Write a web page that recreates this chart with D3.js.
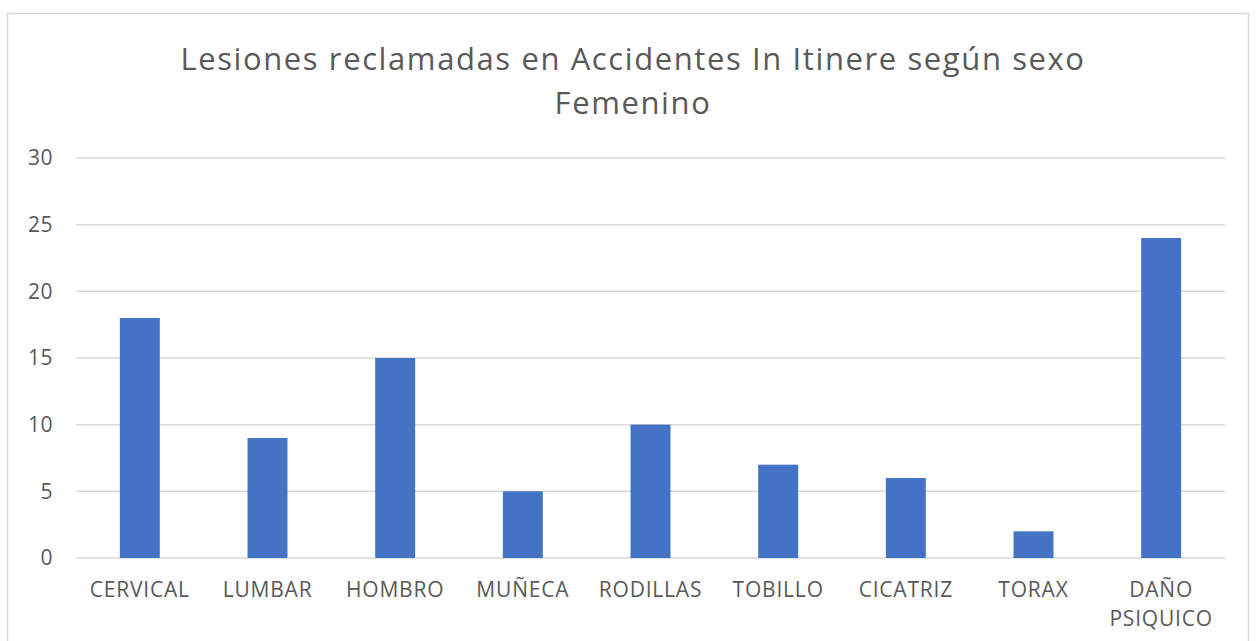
<!DOCTYPE html>
<html>
<head>
<meta charset="utf-8">
<script src="https://cdn.jsdelivr.net/npm/d3@7"></script>
<style>
  body { margin: 0; background: #fff; }
  text { font-family: "Open Sans", "Noto Sans", sans-serif; fill: #595959; }
</style>
</head>
<body>
<div id="chart"></div>
<script>
// data
var categories = ["CERVICAL", "LUMBAR", "HOMBRO", "MUÑECA", "RODILLAS", "TOBILLO", "CICATRIZ", "TORAX", "DAÑO PSIQUICO"];
var values = [18, 9, 15, 5, 10, 7, 6, 2, 24];
var yTicks = [0, 5, 10, 15, 20, 25, 30];
var titleLines = ["Lesiones reclamadas en Accidentes In Itinere según sexo", "Femenino"];

var W = 1256, H = 641;
var margin = {top: 158, left: 76, right: 31, bottom: 83};
var width = W - margin.left - margin.right,
    height = H - margin.top - margin.bottom;

var svg = d3.select("#chart").append("svg")
    .attr("width", W)
    .attr("height", H);

// outer frame
svg.append("rect")
    .attr("x", 7.5).attr("y", 13.5)
    .attr("width", 1241).attr("height", 640)
    .attr("fill", "none")
    .attr("stroke", "#d9d9d9")
    .attr("stroke-width", 1.5);

// title
svg.append("text")
    .attr("x", 632)
    .attr("y", 70)
    .attr("text-anchor", "middle")
    .style("font-size", "31px")
    .style("letter-spacing", "1.6px")
    .selectAll("tspan")
    .data(titleLines)
    .enter().append("tspan")
    .attr("x", 633)
    .attr("dy", function (d, i) { return i ? 44 : 0; })
    .text(function (d) { return d; });

var g = svg.append("g")
    .attr("transform", "translate(" + margin.left + "," + margin.top + ")");

var x = d3.scaleBand()
    .domain(categories)
    .range([0, width])
    .paddingInner(0.687)
    .paddingOuter(0.3435);

var y = d3.scaleLinear()
    .domain([0, 30])
    .range([height, 0]);

// gridlines
g.append("g")
    .selectAll("line")
    .data(yTicks)
    .enter().append("line")
    .attr("x1", 0)
    .attr("x2", width)
    .attr("y1", function (d) { return y(d); })
    .attr("y2", function (d) { return y(d); })
    .attr("stroke", "#d9d9d9")
    .attr("stroke-width", 1.5);

// y axis labels
var yAxis = g.append("g")
    .call(d3.axisLeft(y).tickValues(yTicks).tickSize(0).tickPadding(23));
yAxis.select(".domain").remove();
yAxis.selectAll("text")
    .style("font-size", "21px")
    .style("letter-spacing", "0.5px")
    .attr("fill", "#595959");

// bars
g.selectAll(".bar")
    .data(values)
    .enter().append("rect")
    .attr("class", "bar")
    .attr("x", function (d, i) { return x(categories[i]); })
    .attr("width", x.bandwidth())
    .attr("y", function (d) { return y(d); })
    .attr("height", function (d) { return height - y(d); })
    .attr("fill", "#4472c4");

// x axis labels
var xAxis = g.append("g")
    .attr("transform", "translate(0," + height + ")")
    .call(d3.axisBottom(x).tickSize(0).tickPadding(0));
xAxis.select(".domain").remove();
xAxis.selectAll("text")
    .style("font-size", "21px")
    .style("letter-spacing", "0.8px")
    .attr("fill", "#595959")
    .attr("y", 0)
    .attr("dy", null)
    .each(function (d) {
        var t = d3.select(this);
        var words = d.split(" ");
        t.text(null);
        words.forEach(function (w, i) {
            t.append("tspan").attr("x", 0).attr("y", 39 + i * 29).text(w);
        });
    });
</script>
</body>
</html>
